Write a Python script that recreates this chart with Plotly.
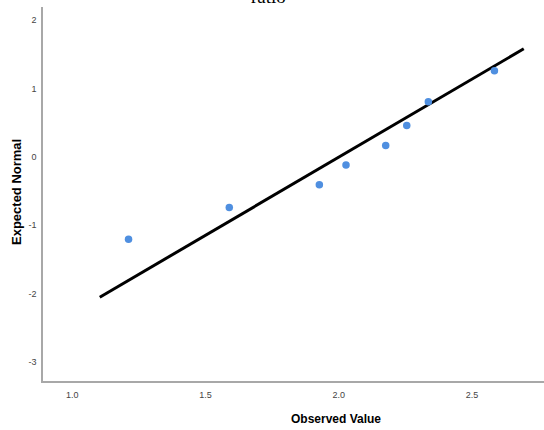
import plotly.graph_objects as go

# Data (Normal Q-Q plot of "ratio")
observed = [1.211, 1.589, 1.927, 2.027, 2.176, 2.255, 2.336, 2.584]
expected = [-1.203, -0.741, -0.409, -0.117, 0.165, 0.458, 0.804, 1.257]
line_x = [1.103, 2.694]
line_y = [-2.051, 1.579]
x_ticks = [1.0, 1.5, 2.0, 2.5]
x_ticklabels = ["1.0", "1.5", "2.0", "2.5"]
y_ticks = [-3, -2, -1, 0, 1, 2]
y_ticklabels = ["-3", "-2", "-1", "0", "1", "2"]

fig = go.Figure()
fig.add_trace(go.Scatter(x=line_x, y=line_y, mode="lines",
                         line=dict(color="black", width=3), showlegend=False))
fig.add_trace(go.Scatter(x=observed, y=expected, mode="markers",
                         marker=dict(color="#4f8fe0", size=7.5, line=dict(width=0)),
                         showlegend=False))

fig.update_layout(
    width=544, height=430,
    margin=dict(l=43, r=0, t=7, b=49),
    paper_bgcolor="white", plot_bgcolor="white",
    font=dict(family="Arial, Liberation Sans", color="#333333"),
    xaxis=dict(range=[0.890, 2.77], tickvals=x_ticks, ticktext=x_ticklabels,
               showgrid=False, zeroline=False, showline=True, linecolor="#a8a8a8",
               linewidth=1.5, ticks="", tickfont=dict(size=9, color="#444444"),
               ticklabelstandoff=4),
    yaxis=dict(range=[-3.275, 2.19], tickvals=y_ticks, ticktext=y_ticklabels,
               showgrid=False, zeroline=False, showline=True, linecolor="#a8a8a8",
               linewidth=1.5, ticks="", tickfont=dict(size=9, color="#444444"),
               ticklabelstandoff=3),
    annotations=[
        dict(text="ratio", x=268, y=-3, xref="paper", yref="paper", showarrow=False,
             font=dict(family="Liberation Serif, Times New Roman", size=19, color="black"),
             xanchor="center", yanchor="middle"),
        dict(text="<b>Expected Normal</b>", x=16, y=192, xref="paper", yref="paper",
             showarrow=False, textangle=-90, font=dict(size=13, color="black"),
             xanchor="center", yanchor="middle"),
        dict(text="<b>Observed Value</b>", x=336, y=419, xref="paper", yref="paper",
             showarrow=False, font=dict(size=12, color="black"),
             xanchor="center", yanchor="middle"),
    ],
)

# convert pixel positions of annotations to paper coordinates
W, H = 544, 430
l, r, t, b = 43, 0, 7, 49
pw, ph = W - l - r, H - t - b
for ann in fig.layout.annotations:
    px, py = ann.x, ann.y
    ann.x = (px - l) / pw
    ann.y = (H - b - py) / ph

fig.write_html("out.html")
